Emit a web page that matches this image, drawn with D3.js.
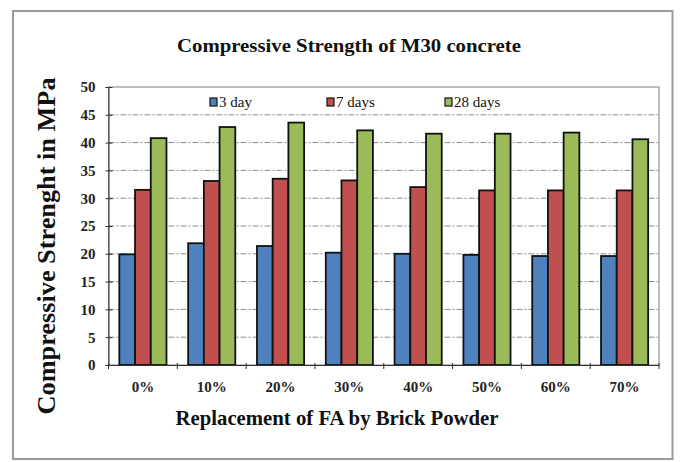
<!DOCTYPE html>
<html>
<head>
<meta charset="utf-8">
<script src="https://cdn.jsdelivr.net/npm/d3@7/dist/d3.min.js"></script>
<style>
  html, body { margin: 0; padding: 0; background: #fff; }
  svg { display: block; font-family: "Liberation Serif", "Times New Roman", serif; }
</style>
</head>
<body>
<svg id="chart" width="681" height="462"></svg>
<script>
// Replacement levels of fine aggregate by brick powder
const categories = ["0%", "10%", "20%", "30%", "40%", "50%", "60%", "70%"];
const seriesNames = ["3 day", "7 days", "28 days"];
const day3 = [19.9, 21.9, 21.4, 20.2, 20.0, 19.8, 19.6, 19.6];
const day7 = [31.5, 33.1, 33.5, 33.2, 32.0, 31.4, 31.4, 31.4];
const day28 = [40.8, 42.8, 43.6, 42.2, 41.6, 41.6, 41.8, 40.6];
const yTicks = [0, 5, 10, 15, 20, 25, 30, 35, 40, 45, 50];
const colors = ["#4F81BD", "#C0504D", "#9BBB59"];

const series = [day3, day7, day28];
const svg = d3.select("#chart");

// outer frame
svg.append("rect")
  .attr("x", 13).attr("y", 11).attr("width", 659.5).attr("height", 448)
  .attr("fill", "none").attr("stroke", "#9a9a9a").attr("stroke-width", 2);

const plot = { left: 108.5, right: 659, top: 87, bottom: 365 };

const x = d3.scaleBand().domain(categories).range([plot.left, plot.right]).paddingInner(0).paddingOuter(0);
const xInner = d3.scaleBand().domain(d3.range(series.length)).range([0, x.bandwidth()]).paddingOuter(0.69).paddingInner(0);
const y = d3.scaleLinear().domain([0, 50]).range([plot.bottom, plot.top]);

// dash-dot grid lines
svg.append("g").selectAll("line")
  .data(yTicks.filter(t => t > 0 && t < 50))
  .join("line")
  .attr("x1", plot.left).attr("x2", plot.right)
  .attr("y1", d => y(d)).attr("y2", d => y(d))
  .attr("stroke", "#8c8c8c").attr("stroke-width", 1)
  .attr("stroke-dasharray", "6,2,2,2");

// plot frame
svg.append("rect")
  .attr("x", plot.left).attr("y", plot.top)
  .attr("width", plot.right - plot.left).attr("height", plot.bottom - plot.top)
  .attr("fill", "none").attr("stroke", "#7f7f7f").attr("stroke-width", 1);

// bars
const groups = svg.append("g").selectAll("g")
  .data(categories)
  .join("g")
  .attr("transform", d => `translate(${x(d)},0)`);

groups.selectAll("rect")
  .data((c, i) => series.map((s, k) => ({ k, v: s[i] })))
  .join("rect")
  .attr("x", d => xInner(d.k))
  .attr("width", xInner.bandwidth())
  .attr("y", d => y(d.v))
  .attr("height", d => y(0) - y(d.v))
  .attr("fill", d => colors[d.k])
  .attr("stroke", "#111").attr("stroke-width", 1.8);

// y axis: ticks cross the axis line
const yAxis = svg.append("g")
  .attr("transform", `translate(${plot.left},0)`)
  .call(d3.axisLeft(y).tickValues(yTicks).tickSize(3).tickPadding(10));
yAxis.select(".domain").attr("stroke", "#333");
yAxis.selectAll(".tick line").attr("stroke", "#333").attr("x2", -3).attr("x1", 4);
yAxis.selectAll("text")
  .attr("font-family", "Liberation Serif").attr("font-weight", "bold")
  .attr("font-size", 15).attr("fill", "#222");

// x axis
const xAxis = svg.append("g")
  .attr("transform", `translate(0,${plot.bottom})`)
  .call(d3.axisBottom(x).tickSize(0).tickPadding(16));
xAxis.select(".domain").attr("stroke", "#333");
xAxis.selectAll("text")
  .attr("font-family", "Liberation Serif").attr("font-weight", "bold")
  .attr("font-size", 15).attr("fill", "#222");
// tick marks at category boundaries
svg.append("g").selectAll("line")
  .data(d3.range(categories.length + 1))
  .join("line")
  .attr("x1", i => plot.left + i * x.step()).attr("x2", i => plot.left + i * x.step())
  .attr("y1", plot.bottom - 2).attr("y2", plot.bottom + 4)
  .attr("stroke", "#333");

// titles
svg.append("text")
  .attr("x", 349).attr("y", 52).attr("text-anchor", "middle")
  .attr("font-weight", "bold").attr("font-size", 19).attr("fill", "#111")
  .attr("textLength", 344).attr("lengthAdjust", "spacingAndGlyphs")
  .text("Compressive Strength of M30 concrete");

svg.append("text")
  .attr("x", 337).attr("y", 425).attr("text-anchor", "middle")
  .attr("font-weight", "bold").attr("font-size", 21).attr("fill", "#111")
  .attr("textLength", 323).attr("lengthAdjust", "spacingAndGlyphs")
  .text("Replacement of FA by Brick Powder");

svg.append("text")
  .attr("transform", "translate(55,246) rotate(-90)")
  .attr("text-anchor", "middle")
  .attr("font-weight", "bold").attr("font-size", 25).attr("fill", "#111")
  .attr("textLength", 337).attr("lengthAdjust", "spacingAndGlyphs")
  .text("Compressive Strenght in MPa");

// legend
const legendX = [210, 327, 445];
const legend = svg.append("g").selectAll("g")
  .data(seriesNames)
  .join("g")
  .attr("transform", (d, i) => `translate(${legendX[i]},98)`);
legend.append("rect")
  .attr("x", 0).attr("y", 0).attr("width", 7).attr("height", 8)
  .attr("fill", (d, i) => colors[i]).attr("stroke", "#111").attr("stroke-width", 1.2);
legend.append("text")
  .attr("x", 9).attr("y", 9)
  .attr("font-size", 15).attr("fill", "#111")
  .text(d => d);
</script>
</body>
</html>
